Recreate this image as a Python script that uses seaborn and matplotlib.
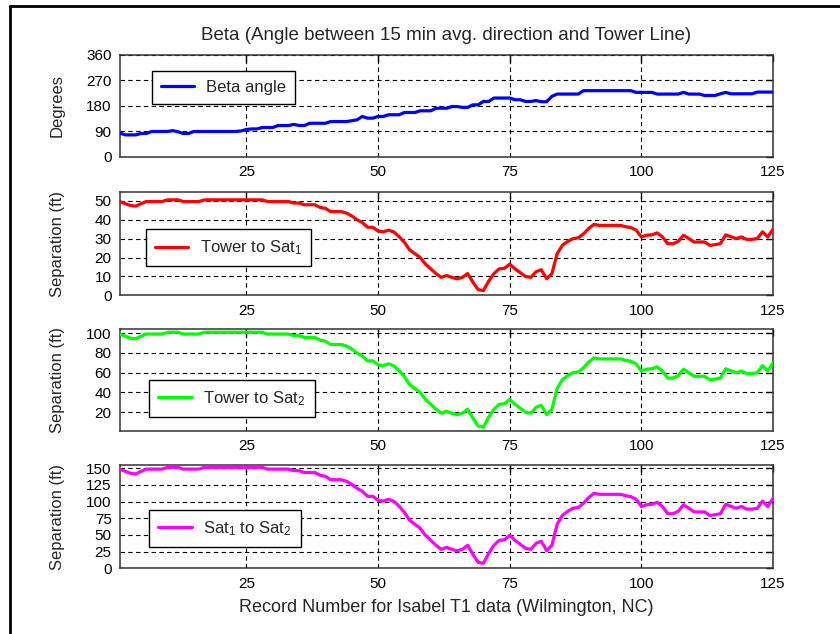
import matplotlib
matplotlib.use("Agg")
import numpy as np
import pandas as pd
import seaborn as sns
import matplotlib.pyplot as plt
from matplotlib.lines import Line2D

# ---------------- data ----------------
records = list(range(1, 126))

beta = [
    84, 78, 78, 78, 83, 83, 90, 90, 90, 90,
    93, 89, 83, 83, 90, 90, 90, 90, 90, 90,
    90, 90, 90, 92, 97, 99, 99, 104, 104, 104,
    111, 111, 111, 115, 111, 111, 119, 119, 119, 119,
    125, 125, 125, 125, 128, 131, 143, 137, 137, 143,
    143, 149, 149, 149, 157, 157, 157, 163, 163, 163,
    172, 172, 172, 178, 178, 175, 175, 184, 184, 196,
    196, 208, 208, 208, 208, 202, 202, 196, 196, 199,
    195, 195, 214, 222, 222, 222, 222, 222, 234, 234,
    234, 234, 234, 234, 234, 234, 234, 234, 228, 228,
    228, 228, 222, 222, 222, 222, 222, 228, 222, 222,
    222, 217, 217, 217, 223, 228, 223, 223, 223, 223,
    223, 229, 229, 229, 229,
]

tower_sat1 = [
    49.5, 48.5, 47.5, 47.2, 48.5, 49.6, 49.6, 49.6, 49.6, 50.5,
    50.5, 50.5, 49.6, 49.6, 49.6, 49.6, 50.5, 50.5, 50.5, 50.5,
    50.5, 50.5, 50.5, 50.5, 50.5, 50.5, 50.5, 50.5, 49.6, 49.6,
    49.6, 49.6, 49.6, 48.8, 48.8, 47.9, 47.9, 47.9, 46.5, 46.0,
    44.3, 44.3, 44.3, 43.5, 42.0, 40.0, 38.5, 36.0, 36.0, 34.0,
    33.6, 34.5, 33.5, 31.0, 28.0, 24.0, 22.0, 20.0, 16.5, 14.0,
    11.5, 9.5, 10.5, 9.5, 8.7, 9.5, 11.5, 7.0, 3.0, 2.5,
    7.5, 11.5, 14.0, 14.3, 16.5, 14.0, 12.0, 10.0, 9.5, 12.5,
    13.5, 8.8, 11.5, 22.0, 26.5, 28.5, 30.0, 30.4, 32.5, 35.4,
    37.5, 37.0, 37.0, 37.0, 37.0, 37.0, 36.3, 35.8, 34.5, 30.9,
    31.8, 32.0, 33.0, 30.9, 27.3, 27.3, 28.5, 31.8, 30.0, 28.2,
    28.2, 28.2, 26.4, 26.8, 27.3, 32.0, 31.0, 30.0, 30.9, 29.6,
    29.6, 30.0, 33.6, 30.9, 35.0,
]

tower_sat2 = [
    99, 97, 95, 94.5, 97, 99.2, 99.2, 99.2, 99.2, 101,
    101, 101, 99.2, 99.2, 99.2, 99.2, 101, 101, 101, 101,
    101, 101, 101, 101, 101, 101, 101, 101, 99.2, 99.2,
    99.2, 99.2, 99.2, 97.6, 97.6, 95.8, 95.8, 95.8, 93, 92,
    88.6, 88.6, 88.6, 87, 84, 80, 77, 72, 72, 68,
    67.2, 69, 67, 62, 56, 48, 44, 40, 33, 28,
    23, 19, 21, 19, 17.4, 19, 23, 14, 6, 5,
    15, 23, 28, 28.6, 33, 28, 24, 20, 19, 25,
    27, 17.6, 23, 44, 53, 57, 60, 60.8, 65, 70.8,
    75, 74, 74, 74, 74, 74, 72.6, 71.6, 69, 61.8,
    63.6, 64, 66, 61.8, 54.6, 54.6, 57, 63.6, 60, 56.4,
    56.4, 56.4, 52.8, 53.6, 54.6, 64, 62, 60, 61.8, 59.2,
    59.2, 60, 67.2, 61.8, 70,
]

sat1_sat2 = [
    148.5, 145.5, 142.5, 141.6, 145.5, 148.8, 148.8, 148.8, 148.8, 151.5,
    151.5, 151.5, 148.8, 148.8, 148.8, 148.8, 151.5, 151.5, 151.5, 151.5,
    151.5, 151.5, 151.5, 151.5, 151.5, 151.5, 151.5, 151.5, 148.8, 148.8,
    148.8, 148.8, 148.8, 146.4, 146.4, 143.7, 143.7, 143.7, 139.5, 138,
    132.9, 132.9, 132.9, 130.5, 126, 120, 115.5, 108, 108, 102,
    100.8, 103.5, 100.5, 93, 84, 72, 66, 60, 49.5, 42,
    34.5, 28.5, 31.5, 28.5, 26.1, 28.5, 34.5, 21, 9, 7.5,
    22.5, 34.5, 42, 42.9, 49.5, 42, 36, 30, 28.5, 37.5,
    40.5, 26.4, 34.5, 66, 79.5, 85.5, 90, 91.2, 97.5, 106.2,
    112.5, 111, 111, 111, 111, 111, 108.9, 107.4, 103.5, 92.7,
    95.4, 96, 99, 92.7, 81.9, 81.9, 85.5, 95.4, 90, 84.6,
    84.6, 84.6, 79.2, 80.4, 81.9, 96, 93, 90, 92.7, 88.8,
    88.8, 90, 100.8, 92.7, 105,
]

x_ticks = [25, 50, 75, 100, 125]
beta_ticks = [0, 90, 180, 270, 360]
sat1_ticks = [0, 10, 20, 30, 40, 50]
sat2_ticks = [20, 40, 60, 80, 100]
sat12_ticks = [0, 25, 50, 75, 100, 125, 150]

title = "Beta (Angle between 15 min avg. direction and Tower Line)"
x_label = "Record Number for Isabel T1 data (Wilmington, NC)"

df = pd.DataFrame({
    "record": records,
    "beta": beta,
    "tower_sat1": tower_sat1,
    "tower_sat2": tower_sat2,
    "sat1_sat2": sat1_sat2,
})

# ---------------- style ----------------
sns.set_theme(style="white")
plt.rcParams["font.family"] = ["Liberation Sans", "DejaVu Sans"]
plt.rcParams["mathtext.fontset"] = "custom"
plt.rcParams["mathtext.rm"] = "Liberation Sans"
plt.rcParams["mathtext.it"] = "Liberation Sans:italic"
plt.rcParams["mathtext.bf"] = "Liberation Sans:bold"

fig = plt.figure(figsize=(8.4, 6.34), dpi=100)
fig.patch.set_facecolor("white")

left, width = 0.1429, 0.7774
panels = [
    dict(col="beta", color="#0000ff", label="Beta angle", ylabel="Degrees",
         rect=[left, 0.7524, width, 0.1609], ylim=(0, 360), ticks=beta_ticks,
         leg=(0.0485, 0.846)),
    dict(col="tower_sat1", color="#ff0000", label=r"Tower to Sat$_\mathrm{1}$",
         ylabel="Separation (ft)", rect=[left, 0.5342, width, 0.1634],
         ylim=(0, 54.8), ticks=sat1_ticks, leg=(0.039, 0.637)),
    dict(col="tower_sat2", color="#00ff00", label=r"Tower to Sat$_\mathrm{2}$",
         ylabel="Separation (ft)", rect=[left, 0.3202, width, 0.1604],
         ylim=(1, 104), ticks=sat2_ticks, leg=(0.0444, 0.501)),
    dict(col="sat1_sat2", color="#ff00ff",
         label=r"Sat$_\mathrm{1}$ to Sat$_\mathrm{2}$",
         ylabel="Separation (ft)", rect=[left, 0.1036, width, 0.1630],
         ylim=(0, 155), ticks=sat12_ticks, leg=(0.0444, 0.564)),
]

for i, p in enumerate(panels):
    ax = fig.add_axes(p["rect"])
    ax.set_facecolor("white")
    sns.lineplot(data=df, x="record", y=p["col"], ax=ax, color=p["color"],
                 linewidth=2.3, label=p["label"], zorder=3)
    ax.set_xlim(1, 125)
    ax.set_ylim(*p["ylim"])
    ax.set_xticks(x_ticks)
    ax.set_yticks(p["ticks"])
    ax.tick_params(axis="both", direction="in", length=5, width=1,
                   top=True, right=True, labelsize=11, colors="black",
                   pad=6)
    ax.grid(True, color="black", linestyle=(0, (4, 3)), linewidth=0.8)
    for s in ax.spines.values():
        s.set_color("#333333")
        s.set_linewidth(1.1)
        s.set_visible(True)
    ax.set_xlabel("")
    ax.set_ylabel(p["ylabel"], fontsize=12)
    ax.yaxis.set_label_coords(-0.085, 0.5)
    leg = ax.legend(loc="upper left", bbox_to_anchor=p["leg"],
                    borderaxespad=0, fontsize=12, frameon=True,
                    fancybox=False, edgecolor="black", framealpha=1,
                    handlelength=2.0, handletextpad=0.7, borderpad=0.55)
    leg.get_frame().set_linewidth(1.0)
    if i == 0:
        ax.set_title(title, fontsize=13.5, pad=11)
    if i == 3:
        ax.set_xlabel(x_label, fontsize=13)
        ax.xaxis.set_label_coords(0.5, -0.30)

# outer frame (top and left edges visible)
fig.add_artist(Line2D([10 / 840, 1.0], [1 - 6 / 634, 1 - 6 / 634],
                      transform=fig.transFigure, color="black", linewidth=2))
fig.add_artist(Line2D([10 / 840, 10 / 840], [0.0, 1 - 6 / 634],
                      transform=fig.transFigure, color="black", linewidth=2))

fig.savefig("out.png", dpi=100, facecolor="white")
